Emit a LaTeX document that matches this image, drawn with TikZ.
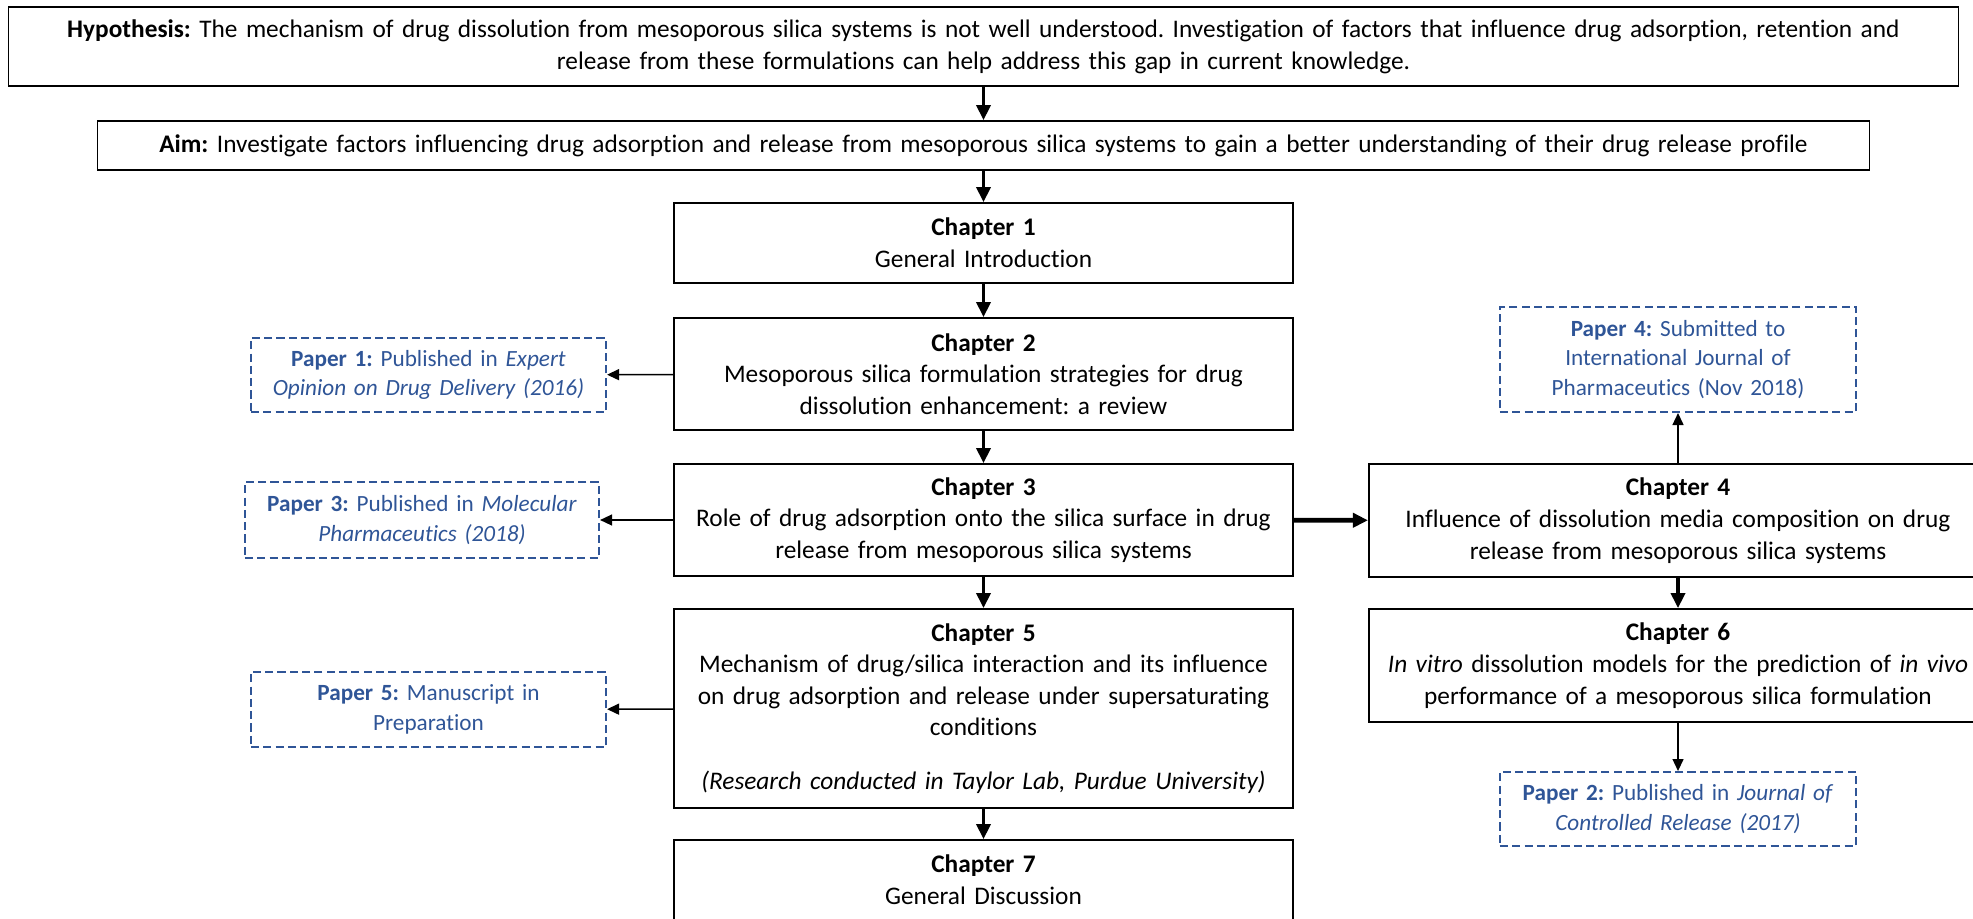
\documentclass[tikz,border=0pt]{standalone}
\usepackage{fontspec}
\setmainfont{Carlito}[Ligatures=NoCommon]
\usetikzlibrary{arrows.meta}
\definecolor{paperblue}{RGB}{47,85,151}
\frenchspacing

\begin{document}
\begin{tikzpicture}[x=0.01cm,y=-0.01cm,
  font=\fontsize{7.2}{9}\selectfont,
  chapbox/.style={draw,line width=0.5pt,align=center,inner sep=0pt,minimum width=6.19cm,text width=6.15cm},
  paperbox/.style={draw=paperblue,text=paperblue,dash pattern=on 2.3pt off 1.2pt,line width=0.55pt,align=center,inner sep=0pt,minimum width=3.55cm,text width=3.5cm,font=\fontsize{6.6}{8.4}\selectfont},
  mainarrow/.style={-{Triangle[length=0.15cm,width=0.14cm]},line width=1pt},
  sidearrow/.style={-{Triangle[length=0.12cm,width=0.11cm]},line width=0.4pt}]
  \clip (0,0) rectangle (1973,918);
  \node[chapbox,minimum width=19.49cm,text width=19.4cm,minimum height=0.79cm] (hyp) at (983.5,46.5)
    {\textbf{Hypothesis:} The mechanism of drug dissolution from mesoporous silica systems is not well understood. Investigation of factors that influence drug adsorption, retention and\\release from these formulations can help address this gap in current knowledge.};
  \node[chapbox,minimum width=17.71cm,text width=17.65cm,minimum height=0.49cm] (aim) at (983.5,145.5)
    {\textbf{Aim:} Investigate factors influencing drug adsorption and release from mesoporous silica systems to gain a better understanding of their drug release profile};
  \node[chapbox,minimum height=0.8cm] (ch1) at (983.5,243) {\textbf{Chapter 1}\\General Introduction};
  \node[chapbox,minimum height=1.12cm] (ch2) at (983.5,374)
    {\textbf{Chapter 2}\\Mesoporous silica formulation strategies for drug\\dissolution enhancement: a review};
  \node[chapbox,minimum height=1.12cm] (ch3) at (983.5,520)
    {\textbf{Chapter 3}\\Role of drug adsorption onto the silica surface in drug\\release from mesoporous silica systems};
  \node[chapbox,minimum height=1.99cm] (ch5) at (983.5,708.5)
    {\textbf{Chapter 5}\\Mechanism of drug/silica interaction and its influence\\on drug adsorption and release under supersaturating\\conditions\\[0.22cm]\textit{(Research conducted in Taylor Lab, Purdue University)}};
  \node[chapbox,minimum height=0.8cm] (ch7) at (983.5,880) {\textbf{Chapter 7}\\General Discussion};
  \node[chapbox,minimum width=6.18cm,minimum height=1.13cm] (ch4) at (1678,520.5)
    {\textbf{Chapter 4}\\Influence of dissolution media composition on drug\\release from mesoporous silica systems};
  \node[chapbox,minimum width=6.18cm,minimum height=1.13cm] (ch6) at (1678,665.5)
    {\textbf{Chapter 6}\\\textit{In vitro} dissolution models for the prediction of \textit{in vivo}\\performance of a mesoporous silica formulation};
  \node[paperbox,minimum width=3.56cm,minimum height=1.05cm] (paper4) at (1678,359.5)
    {\textbf{Paper 4:} Submitted to\\International Journal of\\Pharmaceutics (Nov 2018)};
  \node[paperbox,minimum width=3.56cm,minimum height=0.74cm] (paper2) at (1678,809)
    {\textbf{Paper 2:} Published in \textit{Journal of}\\\textit{Controlled Release (2017)}};
  \node[paperbox,minimum height=0.74cm] (paper1) at (428.5,375)
    {\textbf{Paper 1:} Published in \textit{Expert}\\\textit{Opinion on Drug Delivery (2016)}};
  \node[paperbox,minimum width=3.54cm,minimum height=0.76cm] (paper3) at (422,520)
    {\textbf{Paper 3:} Published in \textit{Molecular}\\\textit{Pharmaceutics (2018)}};
  \node[paperbox,minimum height=0.75cm] (paper5) at (428.5,709.5)
    {\textbf{Paper 5:} Manuscript in\\Preparation};
  \draw[mainarrow] (hyp) -- (aim);
  \draw[mainarrow] (aim) -- (ch1);
  \draw[mainarrow] (ch1) -- (ch2);
  \draw[mainarrow] (ch2) -- (ch3);
  \draw[mainarrow] (ch3) -- (ch5);
  \draw[mainarrow] (ch5) -- (ch7);
  \draw[mainarrow,line width=1.4pt] (ch3) -- (ch4);
  \draw[mainarrow] (ch4) -- (ch6);
  \draw[sidearrow] (ch4) -- (paper4);
  \draw[sidearrow] (ch6) -- (paper2);
  \draw[sidearrow] (ch2) -- (paper1);
  \draw[sidearrow] (ch3) -- (paper3);
  \draw[sidearrow] (ch5) -- (paper5);
\end{tikzpicture}
\end{document}
